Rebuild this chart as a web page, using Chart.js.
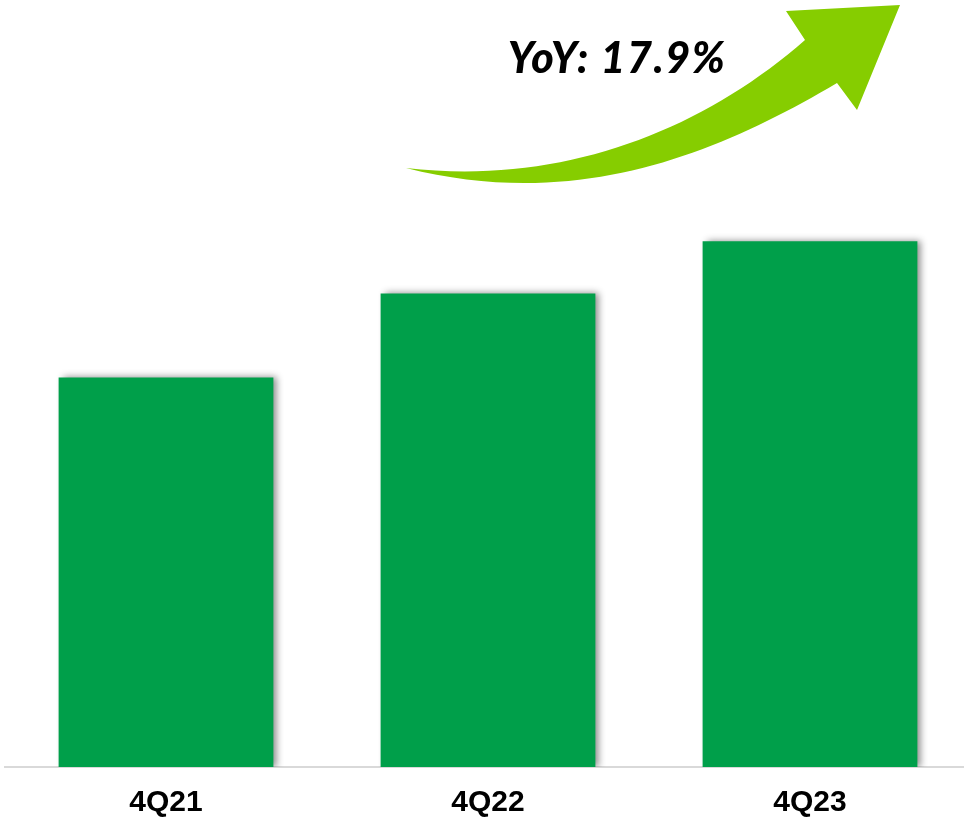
<!DOCTYPE html>
<html>
<head>
<meta charset="utf-8">
<script src="https://cdn.jsdelivr.net/npm/chart.js@4"></script>
<style>
  html, body { margin: 0; padding: 0; background: #fff; overflow: hidden; }
  #wrap { position: relative; width: 976px; height: 817px; }
</style>
</head>
<body>
<div id="wrap"><canvas id="revChart"></canvas></div>
<script>
// quarters and bar heights
const quarters = ['4Q21', '4Q22', '4Q23'];
const revenue = [389, 473, 525];
const yoyText = 'YoY: 17.9%';

// soft grey shadow behind the bars
const barShadow = {
  id: 'barShadow',
  beforeDatasetsDraw(chart) {
    const ctx = chart.ctx;
    ctx.save();
    ctx.shadowColor = 'rgba(0,0,0,0.45)';
    ctx.shadowBlur = 7;
    ctx.shadowOffsetX = 4;
    ctx.shadowOffsetY = 0;
  },
  afterDatasetsDraw(chart) {
    chart.ctx.restore();
  }
};

// curved growth arrow + YoY label
const growthArrow = {
  id: 'growthArrow',
  afterDraw(chart) {
    const ctx = chart.ctx;
    ctx.save();
    ctx.fillStyle = '#86cd00';
    ctx.beginPath();
    ctx.moveTo(406, 168);
    ctx.bezierCurveTo(560, 186, 700, 132, 805, 40);
    ctx.lineTo(786, 11);
    ctx.lineTo(900, 5);
    ctx.lineTo(857, 110);
    ctx.lineTo(837, 83);
    ctx.bezierCurveTo(720, 152, 580, 212, 406, 168);
    ctx.closePath();
    ctx.fill();

    ctx.fillStyle = '#000';
    ctx.font = 'italic 900 43px Lato, "Open Sans", sans-serif';
    ctx.letterSpacing = '1.5px';
    ctx.textAlign = 'center';
    ctx.textBaseline = 'alphabetic';
    ctx.fillText(yoyText, 617, 73);
    ctx.restore();
  }
};

const ctx = document.getElementById('revChart').getContext('2d');
const revChart = new Chart(ctx, {
  type: 'bar',
  data: {
    labels: quarters,
    datasets: [{
      data: revenue,
      backgroundColor: '#009f4a',
      borderWidth: 0,
      barPercentage: 0.667,
      categoryPercentage: 1
    }]
  },
  options: {
    responsive: true,
    maintainAspectRatio: false,
    animation: false,
    layout: { padding: { left: 5, right: 5, top: 0, bottom: -22 } },
    plugins: {
      legend: { display: false },
      tooltip: { enabled: false }
    },
    scales: {
      x: {
        grid: { display: false, drawTicks: false },
        border: { display: true, color: '#d9d9d9', width: 2 },
        ticks: {
          color: '#000',
          padding: 21,
          font: { family: '"Liberation Sans Narrow", "Liberation Sans", Arial, sans-serif', size: 30, weight: 'bold', lineHeight: 1 }
        }
      },
      y: {
        display: false,
        min: 0,
        max: 766
      }
    }
  },
  plugins: [barShadow, growthArrow]
});
</script>
</body>
</html>
